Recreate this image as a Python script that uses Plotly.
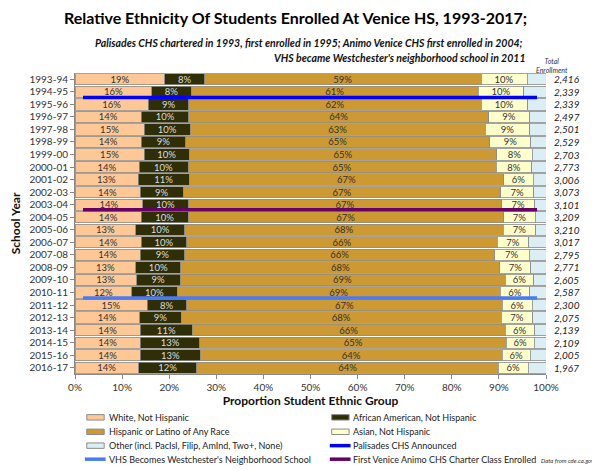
import plotly.graph_objects as go

# school years, top to bottom
years = ["1993-94", "1994-95", "1995-96", "1996-97", "1997-98", "1998-99",
         "1999-00", "2000-01", "2001-02", "2002-03", "2003-04", "2004-05",
         "2005-06", "2006-07", "2007-08", "2008-09", "2009-10", "2010-11",
         "2011-12", "2012-13", "2013-14", "2014-15", "2015-16", "2016-17"]

# percent of enrollment
white = [19.1, 16.3, 15.6, 14.1, 14.7, 14.1, 14.7, 13.6, 13.4, 13.8, 14.4, 14.1,
         12.9, 14.1, 13.9, 12.9, 13.1, 12.1, 15.3, 13.7, 13.9, 13.9, 13.9, 13.5]
african = [8.4, 8.4, 8.6, 10.1, 9.8, 9.4, 9.6, 10.4, 10.9, 9.2, 9.6, 9.9,
           10.4, 9.6, 9.4, 9.6, 9.2, 9.6, 8.4, 8.9, 11.0, 12.6, 12.7, 12.4]
hispanic = [58.7, 60.9, 62.0, 63.6, 62.6, 64.6, 65.2, 65.4, 66.7, 67.4, 66.6, 67.0,
            67.6, 66.0, 65.8, 67.7, 69.0, 68.6, 67.0, 67.9, 66.4, 65.1, 64.1, 64.0]
asian = [9.8, 9.7, 9.9, 8.7, 9.4, 8.7, 7.6, 7.6, 6.3, 7.0, 7.0, 6.7,
         6.9, 6.6, 7.3, 6.6, 6.1, 6.2, 6.4, 6.7, 6.3, 5.9, 6.0, 6.3]
other = [4.0, 4.7, 3.9, 3.5, 3.5, 3.2, 2.9, 3.0, 2.7, 2.6, 2.4, 2.3,
         2.2, 3.7, 3.6, 3.2, 2.6, 3.5, 2.9, 2.8, 2.4, 2.5, 3.3, 3.8]
enrollment = [2416, 2339, 2339, 2497, 2501, 2529, 2703, 2773, 3006, 3073, 3101, 3209,
              3210, 3017, 2795, 2771, 2605, 2587, 2300, 2075, 2139, 2109, 2005, 1967]

# event markers: row position (fractional row index) and x extent in %
event_names = ["Palisades CHS Announced", "VHS Becomes Westchester's Neighborhood School",
               "First Venice Animo CHS Charter Class Enrolled"]
event_rows = [1.45, 17.45, 10.4]
event_x = [1.7, 98.1]
event_colors = ["#0000ff", "#4a7bf7", "#660066"]

rows = list(range(len(years)))
font = "Lato"

fig = go.Figure()

segments = [
    ("White, Not Hispanic", white, "#fdc896", "#333333"),
    ("African American, Not Hispanic", african, "#2f2e07", "#dddddd"),
    ("Hispanic or Latino of Any Race", hispanic, "#cc9933", "#333333"),
    ("Asian, Not Hispanic", asian, "#ffffcc", "#333333"),
    ("Other (incl. PacIsl, Filip, AmInd, Two+, None)", other, "#dbeef4", "#333333"),
]
for name, vals, color, tcolor in segments:
    show_text = not name.startswith("Other")
    fig.add_trace(go.Bar(
        x=vals, y=rows, orientation="h", name=name, showlegend=False,
        marker=dict(color=color, line=dict(color="#8c8c8c", width=0.8)),
        text=[f"{round(v)}%" for v in vals] if show_text else None,
        textposition="inside", insidetextanchor="middle",
        textfont=dict(family=font, size=9.5, color=tcolor),
        hoverinfo="skip",
    ))

for i in range(3):
    fig.add_trace(go.Scatter(
        x=event_x, y=[event_rows[i], event_rows[i]], mode="lines",
        name=event_names[i], showlegend=False,
        line=dict(color=event_colors[i], width=3.5), hoverinfo="skip",
    ))

# enrollment totals to the right of the bars
for r, n in zip(rows, enrollment):
    fig.add_annotation(x=1.012, xref="paper", y=r, yref="y", text=f"<i>{n:,}</i>",
                       showarrow=False, xanchor="left",
                       font=dict(family=font, size=10, color="#222222"))

# hand-drawn legend, two columns laid out like the original
legend_items = [
    ("White, Not Hispanic", "bar", "#fdc896"),
    ("African American, Not Hispanic", "bar", "#2f2e07"),
    ("Hispanic or Latino of Any Race", "bar", "#cc9933"),
    ("Asian, Not Hispanic", "bar", "#ffffcc"),
    ("Other (incl. PacIsl, Filip, AmInd, Two+, None)", "bar", "#dbeef4"),
    ("Palisades CHS Announced", "line", event_colors[0]),
    ("VHS Becomes Westchester's Neighborhood School", "line", event_colors[1]),
    ("First Venice Animo CHS Charter Class Enrolled", "line", event_colors[2]),
]
col_x = [0.025, 0.545]
row_y = [-0.144, -0.192, -0.238, -0.283]
for k, (label, kind, color) in enumerate(legend_items):
    x0 = col_x[k % 2]
    y0 = row_y[k // 2]
    if kind == "bar":
        fig.add_shape(type="rect", xref="paper", yref="paper",
                      x0=x0, x1=x0 + 0.037, y0=y0 - 0.009, y1=y0 + 0.009,
                      fillcolor=color, line=dict(color="#8c8c8c", width=1))
    else:
        fig.add_shape(type="line", xref="paper", yref="paper",
                      x0=x0 - 0.004, x1=x0 + 0.04, y0=y0, y1=y0,
                      line=dict(color=color, width=3.5))
    fig.add_annotation(x=x0 + 0.042, xref="paper", y=y0, yref="paper", text=label,
                       showarrow=False, xanchor="left", yanchor="middle",
                       font=dict(family=font, size=9, color="#222222"))

fig.add_annotation(x=1.051, xref="paper", y=0.99, yref="paper", yanchor="bottom",
                   text="<i>Total<br>Enrollment</i>", showarrow=False,
                   font=dict(family=font, size=7, color="#333333"), align="center")
fig.add_annotation(x=0.955, xref="paper", y=1.10, yref="paper",
                   text="<b><i>Palisades CHS chartered in 1993, first enrolled in 1995; Animo Venice CHS first enrolled in 2004;</i></b>",
                   showarrow=False, xanchor="right", yanchor="middle",
                   font=dict(family=font, size=10.5, color="#111111"))
fig.add_annotation(x=0.96, xref="paper", y=1.05, yref="paper",
                   text="<b><i>VHS became Westchester's neighborhood school in 2011</i></b>",
                   showarrow=False, xanchor="right", yanchor="middle",
                   font=dict(family=font, size=10.5, color="#111111"))
fig.add_annotation(x=1.106, xref="paper", y=-0.286, yref="paper",
                   text="<i>Data from cde.ca.gov</i>", showarrow=False,
                   xanchor="right", yanchor="middle",
                   font=dict(family=font, size=6, color="#333333"))

# page body has an 8px margin, so the figure is 8px smaller on each axis
fig.update_layout(
    width=592, height=462,
    barmode="stack", bargap=0.1,
    paper_bgcolor="white", plot_bgcolor="white",
    margin=dict(l=67, r=54, t=65, b=96),
    font=dict(family=font, size=10, color="#222222"),
    title=dict(text="<b>Relative Ethnicity Of Students Enrolled At Venice HS, 1993-2017;</b>",
               x=0.877, xanchor="right", y=0.978, yanchor="middle",
               font=dict(family=font, size=16, color="#000000")),
    showlegend=False,
    uniformtext=dict(minsize=8, mode="show"),
)
fig.update_xaxes(range=[0, 100], dtick=10, ticksuffix="%", showgrid=False,
                 showline=True, linecolor="#888888", ticks="outside", ticklen=4,
                 tickcolor="#888888", tickfont=dict(size=10, color="#333333"),
                 title=dict(text="<b>Proportion Student Ethnic Group</b>", standoff=2,
                            font=dict(size=12, color="#111111")),
                 zeroline=False, automargin=False)
fig.update_yaxes(range=[len(years) - 0.5, -0.5], tickvals=rows, ticktext=years,
                 showgrid=False, showline=True, linecolor="#888888", ticks="outside",
                 ticklen=4, tickcolor="#888888", tickfont=dict(size=10, color="#333333"),
                 title=dict(text="<b>School Year</b>", standoff=8,
                            font=dict(size=12, color="#111111")),
                 zeroline=False, automargin=False)

fig.write_html("out.html")
